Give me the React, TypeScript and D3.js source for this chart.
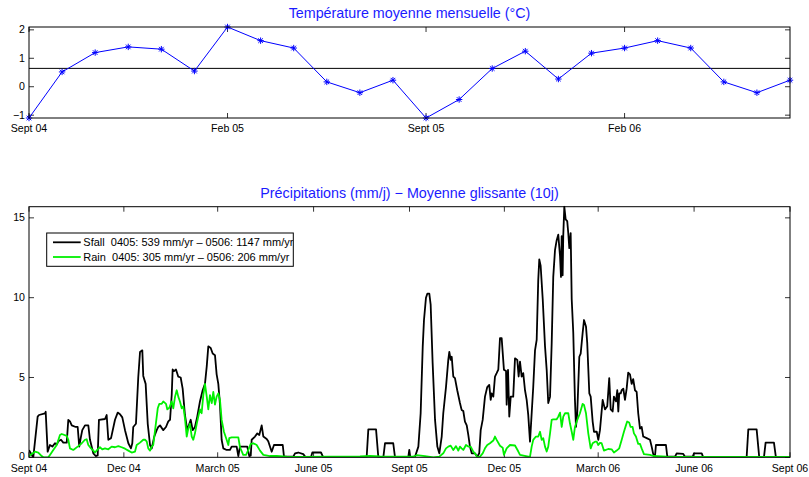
import React from "react";
import * as d3 from "d3";

// ---------- Top chart data: monthly mean temperature (°C) ----------
const tempMonthIndex = [0, 1, 2, 3, 4, 5, 6, 7, 8, 9, 10, 11, 12, 13, 14, 15, 16, 17, 18, 19, 20, 21, 22, 23];
const temperature = [-1.1, 0.52, 1.2, 1.4, 1.32, 0.55, 2.1, 1.62, 1.36, 0.17, -0.21, 0.23, -1.1, -0.45, 0.64, 1.25, 0.27, 1.18, 1.36, 1.62, 1.36, 0.17, -0.21, 0.23];
const tempTickMonths = [0, 6, 12, 18];
const tempTickLabels = ["Sept 04", "Feb 05", "Sept 05", "Feb 06"];
const tempYTicks = [-1, 0, 1, 2];

// ---------- Bottom chart data: 10-day running mean precipitation (mm/d) ----------
const precipStart = Date.UTC(2004, 8, 1);
const precipEnd = Date.UTC(2006, 8, 1);
const precipTickDates = [Date.UTC(2004, 8, 1), Date.UTC(2004, 11, 1), Date.UTC(2005, 2, 1), Date.UTC(2005, 5, 1), Date.UTC(2005, 8, 1), Date.UTC(2005, 11, 1), Date.UTC(2006, 2, 1), Date.UTC(2006, 5, 1), Date.UTC(2006, 8, 1)];
const precipTickLabels = ["Sept 04", "Dec 04", "March 05", "June 05", "Sept 05", "Dec 05", "March 06", "June 06", "Sept 06"];
const precipYTicks = [0, 5, 10, 15];

// days since 1 Sept 2004
const snowDays = [0, 4.1, 8.3, 9.6, 15.3, 16.0, 17.9, 20.1, 22.4, 24.9, 26.6, 28.1, 30.7, 32.9, 36.2, 37.7, 39.3, 41.0, 44.8, 46.7, 48.2, 49.6, 51.1, 53.7, 56.9, 58.5, 61.7, 64.0, 65.9, 67.1, 72.9, 74.5, 76.1, 78.7, 82.5, 85.1, 87.3, 89.5, 92.1, 95.3, 97.8, 99.1, 100.0, 102.6, 104.8, 106.5, 108.7, 109.6, 111.9, 113.9, 116.1, 117.7, 120.2, 122.5, 124.0, 125.7, 128.8, 131.4, 133.6, 135.3, 136.9, 137.8, 139.1, 141.0, 143.2, 145.5, 147.4, 149.6, 151.8, 153.8, 155.1, 157.0, 159.2, 161.4, 164.0, 166.6, 168.8, 170.5, 172.0, 174.3, 176.2, 178.4, 180.0, 181.6, 183.2, 184.8, 186.4, 189.6, 192.8, 194.4, 199.2, 200.8, 202.4, 209.4, 211.3, 212.7, 213.6, 216.8, 219.0, 220.9, 223.2, 224.8, 228.0, 229.5, 232.8, 235.0, 243.4, 244.6, 253.5, 255.2, 258.3, 263.1, 265.4, 270.5, 271.8, 280.1, 282.3, 323.9, 325.5, 332.9, 335.1, 339.9, 341.5, 349.4, 351.1, 363.8, 364.8, 365.8, 370.3, 373.5, 375.7, 377.7, 378.9, 380.8, 382.1, 384.0, 385.3, 387.2, 389.5, 391.7, 393.6, 395.9, 397.4, 400.0, 402.2, 403.2, 404.5, 405.5, 407.0, 408.6, 410.8, 413.4, 415.0, 416.6, 418.2, 419.9, 421.4, 423.0, 424.7, 427.8, 430.0, 431.9, 433.3, 435.2, 437.4, 439.6, 441.5, 442.9, 443.8, 445.4, 447.0, 448.6, 450.2, 451.8, 453.4, 455.6, 457.6, 458.2, 459.5, 460.7, 462.1, 464.5, 466.2, 468.4, 469.7, 471.0, 472.6, 474.1, 475.8, 477.4, 478.9, 480.6, 482.2, 483.7, 485.4, 487.0, 488.5, 489.5, 490.8, 492.8, 495.0, 496.6, 498.1, 499.8, 501.4, 502.9, 504.6, 506.2, 507.7, 509.4, 510.3, 511.0, 511.9, 512.5, 513.5, 514.8, 516.3, 517.3, 518.3, 519.6, 520.6, 522.1, 523.7, 524.7, 525.9, 527.9, 529.2, 531.1, 532.4, 534.3, 535.5, 537.5, 538.8, 540.7, 542.0, 544.6, 546.1, 547.7, 550.3, 552.5, 554.7, 556.6, 558.0, 559.9, 561.1, 563.1, 564.3, 565.3, 566.2, 567.6, 568.5, 570.1, 571.7, 573.3, 574.8, 576.5, 578.1, 579.6, 581.3, 582.9, 584.4, 586.1, 587.7, 589.2, 592.5, 595.7, 597.3, 598.8, 600.5, 601.4, 611.0, 612.3, 619.7, 621.3, 627.6, 629.3, 636.7, 637.9, 645.3, 646.8, 688.4, 690.0, 698.0, 700.5, 705.0, 706.6, 714.6, 716.5, 730];
const snowfall = [0.45, 0, 2.55, 2.65, 2.75, 2.85, 0.35, 0.77, 0.67, 0.88, 0.8, 1.0, 1.1, 0.92, 0.92, 2.35, 2.25, 2.0, 1.9, 1.9, 0.67, 1.2, 1.7, 2.0, 2.0, 1.1, 0.25, 0.08, 0.12, 2.35, 2.4, 2.65, 1.1, 1.2, 2.35, 2.8, 2.7, 2.5, 1.7, 0.88, 0.56, 0.88, 1.9, 2.1, 5.0, 6.6, 6.7, 5.1, 4.6, 2.1, 0.77, 0.55, 1.3, 1.7, 1.9, 2.0, 1.7, 1.9, 2.25, 2.35, 3.9, 5.5, 5.4, 5.5, 5.05, 5.0, 4.3, 2.65, 1.7, 2.1, 2.35, 1.7, 1.9, 2.55, 3.5, 4.2, 4.6, 5.7, 6.95, 6.85, 6.5, 6.4, 5.2, 4.6, 3.3, 1.1, 0.56, 0.46, 0.46, 0.67, 0.67, 0.08, 0.67, 0.67, 0.08, 0.1, 1.1, 1.3, 1.5, 1.4, 2.0, 1.3, 1.15, 1.0, 0.35, 0.77, 0.77, 0.04, 0.04, 0.25, 0.3, 0.2, 0, 0, 0.3, 0.3, 0, 0, 1.75, 1.75, 0, 0, 0.88, 0.88, 0, 0, 0.46, 0, 0.04, 0.67, 2.76, 6.95, 8.6, 10.0, 10.25, 10.25, 9.56, 5.9, 2.34, 0.67, 0.25, 1.3, 2.76, 4.4, 6.1, 6.6, 6.1, 6.3, 5.06, 4.96, 4.2, 3.4, 2.97, 2.9, 2.24, 2.0, 1.4, 0.67, 0.25, 0.25, 0.04, 0.25, 1.7, 2.34, 3.8, 4.4, 4.54, 3.6, 4.0, 3.8, 5.06, 5.27, 5.5, 7.47, 7.47, 5.48, 5.4, 3.3, 5.48, 2.55, 3.8, 3.8, 6.2, 6.1, 5.06, 6.0, 5.06, 5.27, 4.2, 3.6, 2.66, 0.98, 2.76, 4.4, 6.7, 7.36, 11.1, 12.4, 12.0, 9.9, 6.95, 5.48, 3.4, 3.8, 7.15, 11.3, 13.0, 13.6, 13.95, 12.6, 11.3, 13.85, 11.4, 13.9, 15.7, 14.9, 14.8, 14.05, 13.1, 14.05, 9.9, 7.8, 3.6, 1.9, 2.76, 6.3, 6.5, 7.8, 8.6, 8.2, 7.15, 4.0, 3.8, 2.24, 1.6, 1.6, 1.1, 1.7, 3.6, 3.0, 3.2, 4.96, 3.0, 2.87, 3.8, 3.5, 4.2, 2.87, 4.0, 4.0, 4.2, 4.3, 3.6, 4.3, 5.3, 5.2, 4.6, 4.9, 4.2, 4.1, 2.76, 1.8, 1.9, 1.3, 1.2, 1.1, 0.67, 0.2, 0.08, 0.77, 0.77, 0.04, 0.04, 0.25, 0.21, 0.04, 0.04, 0.25, 0.25, 0, 0, 1.75, 1.75, 0, 0, 0.92, 0.92, 0, 0];

const rainDays = [0, 2.6, 5.8, 8.9, 12.2, 13.7, 18.5, 20.1, 23.3, 26.6, 29.7, 31.4, 36.2, 37.7, 39.3, 42.5, 47.3, 50.6, 53.7, 55.3, 56.9, 59.5, 61.7, 63.3, 65.9, 68.1, 70.3, 72.9, 76.1, 79.3, 82.5, 85.7, 88.9, 92.1, 95.3, 98.5, 101.7, 103.3, 106.5, 109.6, 111.3, 112.9, 114.4, 116.1, 117.7, 119.2, 121.5, 123.5, 125.0, 127.3, 128.8, 131.4, 132.7, 134.6, 136.9, 138.4, 140.1, 141.7, 143.2, 144.8, 146.5, 148.0, 149.6, 151.3, 152.8, 154.4, 156.1, 157.6, 159.2, 160.9, 162.4, 164.0, 165.6, 167.2, 168.8, 170.5, 172.0, 173.6, 175.3, 176.8, 178.4, 180.0, 181.6, 183.2, 184.8, 187.0, 189.6, 191.2, 192.1, 194.4, 200.8, 202.4, 205.5, 208.2, 210.4, 212.7, 215.2, 218.4, 221.6, 224.8, 231.2, 237.6, 247.2, 260.0, 317.5, 327.1, 336.7, 355.9, 368.6, 372.0, 379.9, 387.9, 393.6, 397.4, 400.0, 402.2, 404.5, 407.0, 409.6, 411.8, 413.4, 415.0, 416.6, 419.2, 421.4, 423.7, 426.2, 428.8, 430.0, 432.6, 435.2, 437.4, 439.6, 442.2, 445.4, 447.0, 448.6, 451.8, 454.4, 455.6, 458.2, 461.4, 466.2, 469.4, 471.0, 479.0, 480.6, 482.2, 483.7, 486.3, 488.5, 490.2, 491.8, 493.3, 495.0, 496.6, 498.1, 499.8, 501.4, 502.9, 506.2, 507.7, 509.4, 511.0, 512.5, 514.2, 517.3, 518.9, 520.6, 522.1, 523.7, 525.4, 528.5, 531.1, 532.4, 534.3, 536.5, 538.8, 540.7, 543.0, 544.6, 546.1, 547.7, 549.3, 551.5, 555.6, 558.9, 561.1, 563.7, 566.2, 568.5, 570.7, 572.6, 573.8, 575.7, 577.1, 579.0, 580.3, 582.2, 584.4, 586.1, 587.7, 589.9, 595.7, 598.8, 611.7, 643.6, 730];
const rainfall = [0.08, 0.2, 0.35, 0.3, 0.08, 0, 0, 0.15, 0.46, 0.77, 1.4, 1.46, 1.34, 1.1, 0.56, 0.46, 0.7, 0.88, 1.1, 1.13, 0.77, 0.56, 0.42, 0.3, 0.5, 0.63, 0.5, 0.56, 0.5, 0.67, 0.63, 0.7, 0.63, 0.54, 0.42, 0.3, 0.36, 0.77, 0.92, 1.1, 1.1, 1.0, 0.56, 0.42, 0.67, 0.77, 2.0, 3.07, 3.35, 3.35, 3.5, 3.35, 3.0, 3.1, 3.5, 3.07, 3.8, 4.2, 3.8, 3.5, 3.07, 3.2, 2.45, 1.3, 1.8, 2.1, 1.3, 1.1, 1.5, 2.1, 2.55, 3.0, 2.76, 3.9, 4.6, 3.8, 3.0, 3.9, 3.4, 4.1, 3.3, 3.8, 4.0, 3.6, 2.34, 1.6, 1.1, 0.77, 1.2, 1.25, 1.25, 0.63, 0.15, 0.15, 0.46, 0.84, 0.88, 0.77, 0.42, 0.15, 0.08, 0.08, 0.04, 0.02, 0.05, 0.08, 0.05, 0.04, 0.04, 0.13, 0.08, 0, 0.04, 0.25, 0.56, 0.67, 0.73, 0.46, 0.7, 0.42, 0.67, 0.56, 0.46, 0.77, 0.67, 0.67, 0.36, 0.15, 0, 0.04, 0.25, 0.56, 0.77, 0.88, 1.05, 1.3, 1.09, 0.72, 0.6, 0.15, 0.56, 0.77, 0.74, 0.36, 0.15, 0.04, 0.04, 0.67, 1.09, 1.3, 1.3, 1.6, 1.09, 1.2, 0.67, 0.36, 0.67, 1.5, 2.34, 2.38, 2.38, 2.55, 2.8, 1.9, 2.55, 2.76, 2.76, 2.13, 1.6, 1.09, 1.9, 2.24, 2.76, 3.35, 3.28, 2.76, 1.5, 0.56, 0.88, 0.98, 0.98, 0.77, 0.9, 0.88, 0.42, 0.52, 0.5, 0.3, 0.42, 0.56, 1.09, 1.6, 2.0, 2.24, 2.18, 1.9, 1.9, 1.5, 1.3, 0.84, 0.84, 0.56, 0.2, 0.15, 0.08, 0.04, 0.02, 0.02];

const legendLabels = ["Sfall  0405: 539 mm/yr \u2013 0506: 1147 mm/yr", "Rain  0405: 305 mm/yr \u2013 0506: 206 mm/yr"];

const FONT = "'Liberation Sans', Arial, Helvetica, sans-serif";
const DAY = 86400000;

export default function App() {
  const W = 809, H = 477;
  const left = 29, right = 790;

  // top chart
  const tTop = 27, tBot = 118;
  const tx = d3.scaleLinear().domain([tempMonthIndex[0], tempMonthIndex[tempMonthIndex.length - 1]]).range([left, right]);
  const [tMin, tMax] = d3.extent(temperature) as [number, number];
  const ty = d3.scaleLinear().domain([tMin, tMax]).range([tBot, tTop]);
  const tLine = d3.line<number>().x((_, i) => tx(tempMonthIndex[i])).y((d) => ty(d));
  const tMean = d3.mean(temperature) as number;

  // bottom chart
  const pTop = 206.7, pBot = 457.3;
  const px = d3.scaleUtc().domain([new Date(precipStart), new Date(precipEnd)]).range([left, right]);
  const pMax = d3.max(snowfall) as number;
  const py = d3.scaleLinear().domain([0, pMax]).range([pBot, pTop]);
  const toDate = (d: number) => new Date(precipStart + d * DAY);
  const snowLine = d3.line<number>().x((_, i) => px(toDate(snowDays[i]))).y((d) => py(d));
  const rainLine = d3.line<number>().x((_, i) => px(toDate(rainDays[i]))).y((d) => py(d));

  const tickLen = 5;
  const tickColor = "#000";
  const asterisk = "M-3.2,0H3.2M0,-3.2V3.2M-2.3,-2.3L2.3,2.3M-2.3,2.3L2.3,-2.3";

  return (
    <svg width={W} height={H} style={{ position: "absolute", left: 0, top: 0, background: "#fff" }} fontFamily={FONT}>
      <rect x={0} y={0} width={W} height={H} fill="#fff" />
      <defs>
        <clipPath id="legclip">
          <rect x={46.7} y={233} width={246.6} height={33.3} />
        </clipPath>
        <clipPath id="pclip">
          <rect x={left} y={pTop - 1} width={right - left} height={pBot - pTop + 1} />
        </clipPath>
      </defs>

      {/* ---------- Top chart ---------- */}
      <text x={(left + right) / 2} y={18.3} textAnchor="middle" fontSize={14.3} fill="#1a1aff">
        Température moyenne mensuelle (°C)
      </text>
      {tempYTicks.map((v) => (
        <g key={"ty" + v}>
          <line x1={left} x2={left + tickLen} y1={ty(v)} y2={ty(v)} stroke={tickColor} strokeWidth={0.8} />
          <line x1={right} x2={right - tickLen} y1={ty(v)} y2={ty(v)} stroke={tickColor} strokeWidth={0.8} />
          <text x={25} y={ty(v) + 3.6} textAnchor="end" fontSize={10.6} fill="#000">
            {v < 0 ? "\u2212" + Math.abs(v) : v}
          </text>
        </g>
      ))}
      {tempTickMonths.map((m, i) => (
        <g key={"tx" + m}>
          <line x1={tx(m)} x2={tx(m)} y1={tBot} y2={tBot - tickLen} stroke={tickColor} strokeWidth={0.8} />
          <line x1={tx(m)} x2={tx(m)} y1={tTop} y2={tTop + tickLen} stroke={tickColor} strokeWidth={0.8} />
          <text x={tx(m)} y={131.5} textAnchor="middle" fontSize={10.6} fill="#000">
            {tempTickLabels[i]}
          </text>
        </g>
      ))}
      <line x1={left} x2={right} y1={ty(tMean)} y2={ty(tMean)} stroke="#000" strokeWidth={1} />
      <path d={tLine(temperature) || ""} fill="none" stroke="#0000ff" strokeWidth={1} />
      {temperature.map((v, i) => (
        <path key={"m" + i} d={asterisk} transform={`translate(${tx(tempMonthIndex[i])},${ty(v)})`} stroke="#0000ff" strokeWidth={1} fill="none" />
      ))}
      <rect x={left} y={tTop} width={right - left} height={tBot - tTop} fill="none" stroke="#000" strokeWidth={1} />

      {/* ---------- Bottom chart ---------- */}
      <text x={(left + right) / 2} y={198} textAnchor="middle" fontSize={14.3} fill="#1a1aff">
        Précipitations (mm/j) − Moyenne glissante (10j)
      </text>
      {precipYTicks.map((v) => (
        <g key={"py" + v}>
          <line x1={left} x2={left + tickLen} y1={py(v)} y2={py(v)} stroke={tickColor} strokeWidth={0.8} />
          <line x1={right} x2={right - tickLen} y1={py(v)} y2={py(v)} stroke={tickColor} strokeWidth={0.8} />
          <text x={25} y={py(v) + (v === 0 ? 2.6 : 3.6)} textAnchor="end" fontSize={10.6} fill="#000">
            {v}
          </text>
        </g>
      ))}
      {precipTickDates.map((t, i) => (
        <g key={"px" + t}>
          <line x1={px(new Date(t))} x2={px(new Date(t))} y1={pBot} y2={pBot - tickLen} stroke={tickColor} strokeWidth={0.8} />
          <line x1={px(new Date(t))} x2={px(new Date(t))} y1={pTop} y2={pTop + tickLen} stroke={tickColor} strokeWidth={0.8} />
          <text x={px(new Date(t))} y={471.5} textAnchor="middle" fontSize={10.6} fill="#000">
            {precipTickLabels[i]}
          </text>
        </g>
      ))}
      <g clipPath="url(#pclip)">
        <path d={snowLine(snowfall) || ""} fill="none" stroke="#000" strokeWidth={1.8} strokeLinejoin="round" />
        <path d={rainLine(rainfall) || ""} fill="none" stroke="#00f000" strokeWidth={1.8} strokeLinejoin="round" />
      </g>
      <rect x={left} y={pTop} width={right - left} height={pBot - pTop} fill="none" stroke="#000" strokeWidth={1} />

      {/* legend */}
      <rect x={46.7} y={233} width={246.6} height={33.3} fill="#fff" stroke="#000" strokeWidth={1} />
      <line x1={53} x2={80.7} y1={242.3} y2={242.3} stroke="#000" strokeWidth={1.8} />
      <line x1={53} x2={80.7} y1={257} y2={257} stroke="#00f000" strokeWidth={1.8} />
      <g clipPath="url(#legclip)">
        <text x={83.3} y={246.2} fontSize={11} fill="#000" style={{ whiteSpace: "pre" }}>{legendLabels[0]}</text>
        <text x={83.3} y={260.9} fontSize={11} fill="#000" style={{ whiteSpace: "pre" }}>{legendLabels[1]}</text>
      </g>
    </svg>
  );
}
